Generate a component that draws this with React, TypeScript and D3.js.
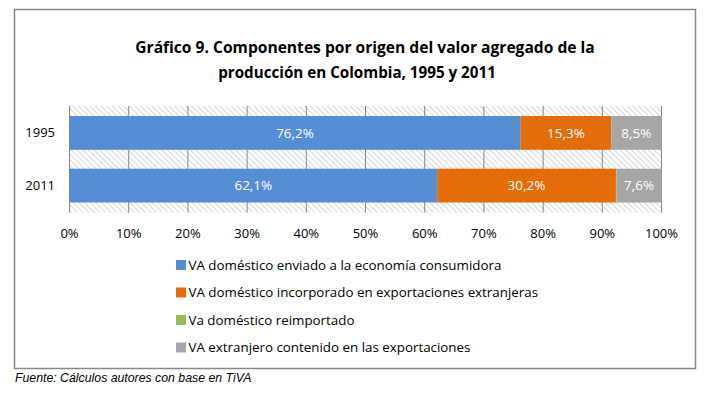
import React from "react";
import * as d3 from "d3";

const categories = ["1995", "2011"];
const seriesNames = [
  "VA doméstico enviado a la economía consumidora",
  "VA doméstico incorporado en exportaciones extranjeras",
  "Va doméstico reimportado",
  "VA extranjero contenido en las exportaciones",
];
const domesticFinal = [76.2, 62.1];
const domesticInForeignExports = [15.3, 30.2];
const domesticReimported = [0.0, 0.1];
const foreignContent = [8.5, 7.6];
const seriesColors = ["#558ED5", "#E46C0A", "#9BBB59", "#A6A6A6"];
const xTicks = [0, 10, 20, 30, 40, 50, 60, 70, 80, 90, 100];

const W = 713;
const H = 393;
const FONT = "'Open Sans', 'Noto Sans', sans-serif";

export default function App() {
  const x = d3.scaleLinear().domain([0, 100]).range([69.5, 661.5]);
  const y = d3
    .scaleBand<string>()
    .domain(categories)
    .range([106, 212.5])
    .paddingInner(0.358)
    .paddingOuter(0.19);

  const rows = categories.map((c, i) => ({
    cat: c,
    s0: domesticFinal[i],
    s1: domesticInForeignExports[i],
    s2: domesticReimported[i],
    s3: foreignContent[i],
  }));
  const stack = d3.stack<any>().keys(["s0", "s1", "s2", "s3"]);
  const layers = stack(rows);
  const fmt = (v: number) => v.toFixed(1).replace(".", ",") + "%";

  const plotTop = 106;
  const plotBottom = 212.5;
  const legendY = [265, 292.5, 320, 347.5];

  return (
    <svg
      width={W}
      height={H}
      style={{ position: "absolute", left: 0, top: 0, background: "#fff" }}
    >
      <defs>
        <pattern
          id="hatch"
          patternUnits="userSpaceOnUse"
          width={4}
          height={4}
          patternTransform="rotate(-45)"
        >
          <rect width={4} height={4} fill="#ffffff" />
          <line x1={0} y1={0} x2={0} y2={4} stroke="#bfbfbf" strokeWidth={1.3} />
        </pattern>
      </defs>
      <rect x={0} y={0} width={W} height={H} fill="#fff" />
      <rect
        x={14.5}
        y={9.5}
        width={681}
        height={359}
        fill="#fff"
        stroke="#888"
        strokeWidth={1.5}
      />
      <text
        x={365}
        y={52.5}
        textAnchor="middle"
        fontFamily={FONT}
        fontWeight={700}
        fontSize={15.6}
        fill="#000"
      >
        Gráfico 9. Componentes por origen del valor agregado de la
      </text>
      <text
        x={357}
        y={77.5}
        textAnchor="middle"
        fontFamily={FONT}
        fontWeight={700}
        fontSize={15.2}
        fill="#000"
      >
        producción en Colombia, 1995 y 2011
      </text>

      <rect
        x={x(0)}
        y={plotTop}
        width={x(100) - x(0)}
        height={plotBottom - plotTop}
        fill="url(#hatch)"
      />
      {xTicks.map((t) => (
        <line
          key={t}
          x1={x(t)}
          x2={x(t)}
          y1={plotTop}
          y2={plotBottom}
          stroke="#868686"
          strokeWidth={1}
        />
      ))}

      {layers.map((layer, li) =>
        layer.map((d, i) => (
          <rect
            key={li + "-" + i}
            x={x(d[0])}
            y={y(categories[i])!}
            width={Math.max(0, x(d[1]) - x(d[0]))}
            height={y.bandwidth()}
            fill={seriesColors[li]}
          />
        ))
      )}
      {layers.map((layer, li) =>
        layer.map((d, i) => {
          const v = d[1] - d[0];
          if (v < 1) return null;
          return (
            <text
              key={"l" + li + "-" + i}
              x={(x(d[0]) + x(d[1])) / 2}
              y={y(categories[i])! + y.bandwidth() / 2}
              dy="0.35em"
              textAnchor="middle"
              fontFamily={FONT}
              fontSize={13.5}
              fill="#fff"
            >
              {fmt(v)}
            </text>
          );
        })
      )}

      {categories.map((c) => (
        <text
          key={c}
          x={55}
          y={y(c)! + y.bandwidth() / 2}
          dy="0.35em"
          textAnchor="end"
          fontFamily={FONT}
          fontSize={13}
          fill="#000"
        >
          {c}
        </text>
      ))}
      {xTicks.map((t) => (
        <text
          key={"t" + t}
          x={x(t)}
          y={233}
          dy="0.35em"
          textAnchor="middle"
          fontFamily={FONT}
          fontSize={13}
          fill="#000"
        >
          {t + "%"}
        </text>
      ))}

      {seriesNames.map((n, i) => (
        <g key={n}>
          <rect
            x={176}
            y={legendY[i] - 5}
            width={10}
            height={10}
            fill={seriesColors[i]}
          />
          <text
            x={188.5}
            y={legendY[i]}
            dy="0.35em"
            fontFamily={FONT}
            fontSize={13.35}
            fill="#000"
          >
            {n}
          </text>
        </g>
      ))}

      <text
        x={15}
        y={382}
        fontFamily="'Liberation Sans', Arial, sans-serif"
        fontStyle="italic"
        fontSize={12.3}
        fill="#000"
      >
        Fuente: Cálculos autores con base en TiVA
      </text>
    </svg>
  );
}
